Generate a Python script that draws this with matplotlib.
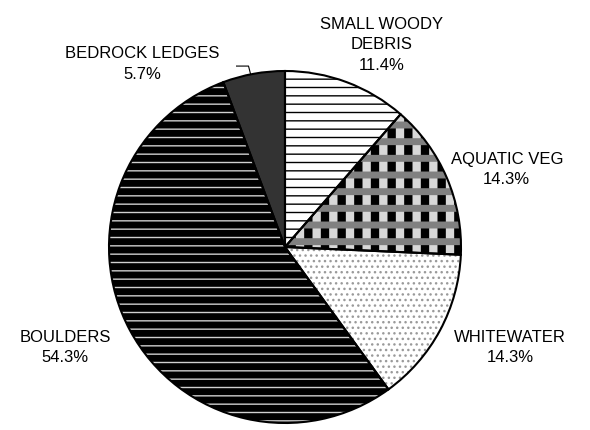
import numpy as np
import matplotlib.pyplot as plt

plt.rcParams['font.family'] = ['Liberation Sans', 'DejaVu Sans']

labels = ['SMALL WOODY\nDEBRIS', 'AQUATIC VEG', 'WHITEWATER', 'BOULDERS', 'BEDROCK LEDGES']
values = [11.4, 14.3, 14.3, 54.3, 5.7]

faces = ['white', '#d8d8d8', 'white', 'black', '#333333']
hatches = ['--', '|', '...', '--', '']
hatch_colors = ['black', 'black', '#9a9a9a', '#d0d0d0', '#333333']
hatch_widths = [1.0, 6.0, 1.0, 1.0, 1.0]

# label centres in pie-radius units (pie centre = 0,0)
label_pos = [(0.55, 1.15), (1.26, 0.44), (1.28, -0.57), (-1.25, -0.57), (-0.81, 1.04)]

fig = plt.figure(figsize=(5.9, 4.3), dpi=100)
ax = fig.add_axes([0, 0, 1, 1])

# fill + hatch layer
wedges, _ = ax.pie(values, colors=faces, startangle=90, counterclock=False,
                   wedgeprops=dict(linewidth=0))
for w, h, hc, hw in zip(wedges, hatches, hatch_colors, hatch_widths):
    w.set_hatch(h)
    w.set_edgecolor(hc)
    if hasattr(w, 'set_hatch_linewidth'):
        w.set_hatch_linewidth(hw)

# gray bands over the aquatic veg pattern
w2, _ = ax.pie(values, colors=['none'] * 5, startangle=90, counterclock=False,
               wedgeprops=dict(linewidth=0))
for i, w in enumerate(w2):
    if i == 1:
        w.set_hatch('-')
        w.set_edgecolor('#808080')
        if hasattr(w, 'set_hatch_linewidth'):
            w.set_hatch_linewidth(5.0)
    else:
        w.set_visible(False)

# outlines
ax.pie(values, startangle=90, counterclock=False,
       wedgeprops=dict(fill=False, edgecolor='black', linewidth=1.5))

for lab, v, (x, y) in zip(labels, values, label_pos):
    ax.text(x, y, f'{lab}\n{v:.1f}%', ha='center', va='center', fontsize=12,
            linespacing=1.45)

# leader line for bedrock ledges
a0 = np.deg2rad(90 + values[-1] / 100 * 360 / 2 + 1)
sx, sy = np.cos(a0), np.sin(a0)
ax.plot([sx, sx - 0.012, sx - 0.08], [sy, 1.028, 1.028], color='black', lw=0.8)

ax.set_xlim(-285 / 176, 305 / 176)
ax.set_ylim(-(430 - 247) / 176, 247 / 176)
ax.axis('off')

plt.savefig('out.png')
